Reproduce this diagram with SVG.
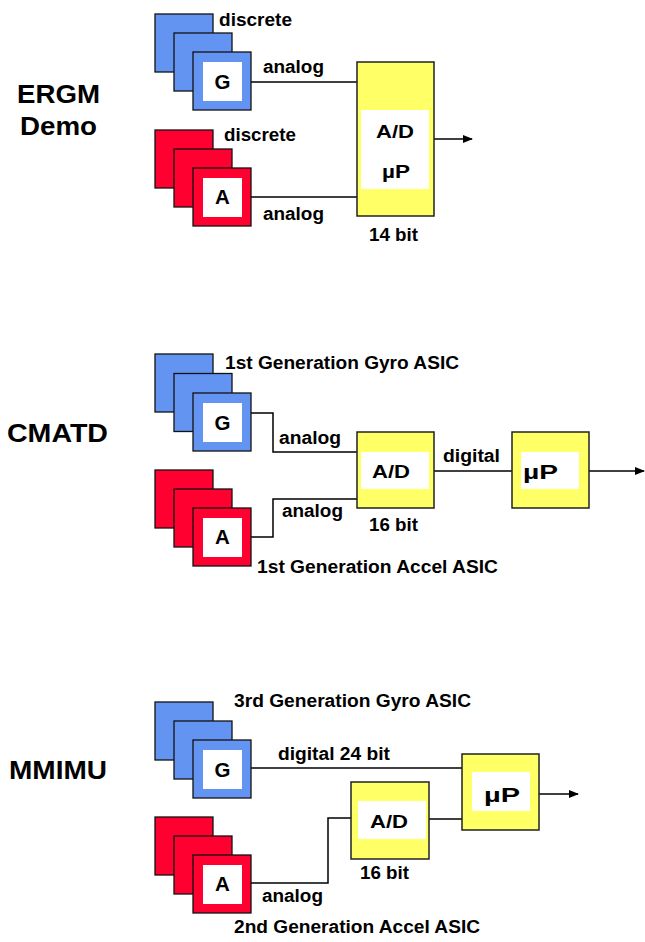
<svg xmlns="http://www.w3.org/2000/svg" width="645" height="942" viewBox="0 0 645 942">
<style>
.t{font-family:"Liberation Sans",Arial,sans-serif;font-weight:bold;fill:#000}
.lbl{font-size:17.5px}
.ttl{font-size:26.5px}
.ltr{font-size:20.5px;text-anchor:middle}
.b{fill:#6494f2;stroke:#111;stroke-width:1.3}
.r{fill:#ff0030;stroke:#111;stroke-width:1.3}
.w{fill:#fff}
.y{fill:#ffff66;stroke:#222;stroke-width:1.5}
.c{fill:none;stroke:#000;stroke-width:1.5}
</style>
<defs>
<marker id="ah" markerWidth="10" markerHeight="8" refX="9" refY="4" orient="auto" markerUnits="userSpaceOnUse">
<path d="M0,0 L10,4 L0,8 Z" fill="#000"/>
</marker>
</defs>
<rect width="645" height="942" fill="#fff"/>

<!-- Titles -->
<g id="title-ergm">
<text class="t ttl" x="17" y="103" textLength="83" lengthAdjust="spacingAndGlyphs">ERGM</text>
<text class="t ttl" x="20" y="135" textLength="77" lengthAdjust="spacingAndGlyphs">Demo</text>
</g>
<g id="title-cmatd"><text class="t ttl" x="7" y="442" textLength="101" lengthAdjust="spacingAndGlyphs">CMATD</text></g>
<g id="title-mmimu"><text class="t ttl" x="9" y="779" textLength="98" lengthAdjust="spacingAndGlyphs">MMIMU</text></g>

<!-- Connectors -->
<g id="connectors">
<path class="c" d="M251,82 H357"/>
<path class="c" d="M251,197 H357"/>
<path class="c" d="M434,139 H472" marker-end="url(#ah)"/>
<path class="c" d="M251,413 H273 V452 H357"/>
<path class="c" d="M251,537 H273 V499 H357"/>
<path class="c" d="M434,471 H512"/>
<path class="c" d="M589,471 H644" marker-end="url(#ah)"/>
<path class="c" d="M251,768 H462"/>
<path class="c" d="M251,883 H328 V818 H351"/>
<path class="c" d="M429,819 H462"/>
<path class="c" d="M539,794 H578" marker-end="url(#ah)"/>
</g>

<!-- Section 1 -->
<g id="gyro1">
<rect class="b" x="155" y="14" width="58" height="58"/>
<rect class="b" x="174" y="33" width="58" height="58"/>
<rect class="b" x="193" y="52" width="58" height="58"/>
<rect class="w" x="203" y="62" width="39" height="39"/>
<text class="t ltr" x="222.5" y="88.5">G</text>
<text class="t lbl" x="219" y="25.5" textLength="73" lengthAdjust="spacingAndGlyphs">discrete</text>
</g>
<g id="accel1">
<rect class="r" x="155" y="130" width="58" height="58"/>
<rect class="r" x="174" y="149" width="58" height="58"/>
<rect class="r" x="193" y="168" width="58" height="58"/>
<rect class="w" x="203" y="178" width="39" height="39"/>
<text class="t ltr" x="222.5" y="204">A</text>
<text class="t lbl" x="224" y="140.5" textLength="72" lengthAdjust="spacingAndGlyphs">discrete</text>
</g>
<g id="adup1">
<rect class="y" x="357" y="62" width="77" height="154"/>
<rect class="w" x="361" y="110" width="68" height="79"/>
<text class="t lbl" x="376" y="138" textLength="38" lengthAdjust="spacingAndGlyphs">A/D</text>
<text class="t lbl" x="382" y="178" textLength="28" lengthAdjust="spacingAndGlyphs">µP</text>
<text class="t lbl" x="369" y="240.5" textLength="49" lengthAdjust="spacingAndGlyphs">14 bit</text>
</g>
<g id="labels1">
<text class="t lbl" x="263" y="73" textLength="61" lengthAdjust="spacingAndGlyphs">analog</text>
<text class="t lbl" x="263" y="219.5" textLength="61" lengthAdjust="spacingAndGlyphs">analog</text>
</g>

<!-- Section 2 -->
<g id="gyro2">
<rect class="b" x="155" y="354" width="58" height="58"/>
<rect class="b" x="174" y="373.5" width="58" height="58"/>
<rect class="b" x="193" y="393" width="58" height="58"/>
<rect class="w" x="203" y="403" width="39" height="39"/>
<text class="t ltr" x="222.5" y="429.5">G</text>
<text class="t lbl" x="225" y="369" textLength="234" lengthAdjust="spacingAndGlyphs">1st Generation Gyro ASIC</text>
</g>
<g id="accel2">
<rect class="r" x="155" y="470" width="58" height="58"/>
<rect class="r" x="174" y="489" width="58" height="58"/>
<rect class="r" x="193" y="508" width="58" height="58"/>
<rect class="w" x="203" y="518" width="39" height="39"/>
<text class="t ltr" x="222.5" y="544">A</text>
<text class="t lbl" x="257" y="573" textLength="241" lengthAdjust="spacingAndGlyphs">1st Generation Accel ASIC</text>
</g>
<g id="ad2">
<rect class="y" x="357" y="432" width="77" height="76"/>
<rect class="w" x="361" y="452" width="68" height="37"/>
<text class="t lbl" x="372" y="478" textLength="38" lengthAdjust="spacingAndGlyphs">A/D</text>
<text class="t lbl" x="369" y="531" textLength="49" lengthAdjust="spacingAndGlyphs">16 bit</text>
</g>
<g id="up2">
<rect class="y" x="512" y="432" width="77" height="76"/>
<rect class="w" x="521" y="452" width="58" height="37"/>
<text class="t lbl" x="523" y="479" textLength="35" lengthAdjust="spacingAndGlyphs" style="font-size:20px">µP</text>
</g>
<g id="labels2">
<text class="t lbl" x="279" y="443.5" textLength="62" lengthAdjust="spacingAndGlyphs">analog</text>
<text class="t lbl" x="282" y="516.5" textLength="61" lengthAdjust="spacingAndGlyphs">analog</text>
<text class="t lbl" x="443" y="461.5" textLength="57" lengthAdjust="spacingAndGlyphs">digital</text>
</g>

<!-- Section 3 -->
<g id="gyro3">
<rect class="b" x="155" y="702" width="58" height="58"/>
<rect class="b" x="174" y="721" width="58" height="58"/>
<rect class="b" x="193" y="740" width="58" height="58"/>
<rect class="w" x="203" y="750" width="39" height="39"/>
<text class="t ltr" x="222.5" y="776.5">G</text>
<text class="t lbl" x="234" y="707" textLength="237" lengthAdjust="spacingAndGlyphs">3rd Generation Gyro ASIC</text>
</g>
<g id="accel3">
<rect class="r" x="155" y="817" width="58" height="58"/>
<rect class="r" x="174" y="836" width="58" height="58"/>
<rect class="r" x="193" y="855" width="58" height="58"/>
<rect class="w" x="203" y="865" width="39" height="39"/>
<text class="t ltr" x="222.5" y="891">A</text>
<text class="t lbl" x="234" y="933" textLength="246" lengthAdjust="spacingAndGlyphs">2nd Generation Accel ASIC</text>
</g>
<g id="ad3">
<rect class="y" x="351" y="782" width="78" height="77"/>
<rect class="w" x="358" y="801" width="68" height="38"/>
<text class="t lbl" x="370" y="828" textLength="38" lengthAdjust="spacingAndGlyphs">A/D</text>
<text class="t lbl" x="360" y="879" textLength="49" lengthAdjust="spacingAndGlyphs">16 bit</text>
</g>
<g id="up3">
<rect class="y" x="462" y="754" width="77" height="76"/>
<rect class="w" x="472" y="772" width="58" height="39"/>
<text class="t lbl" x="484" y="802" textLength="36" lengthAdjust="spacingAndGlyphs" style="font-size:20px">µP</text>
</g>
<g id="labels3">
<text class="t lbl" x="278" y="760" textLength="112" lengthAdjust="spacingAndGlyphs">digital 24 bit</text>
<text class="t lbl" x="262" y="901.5" textLength="61" lengthAdjust="spacingAndGlyphs">analog</text>
</g>
</svg>
